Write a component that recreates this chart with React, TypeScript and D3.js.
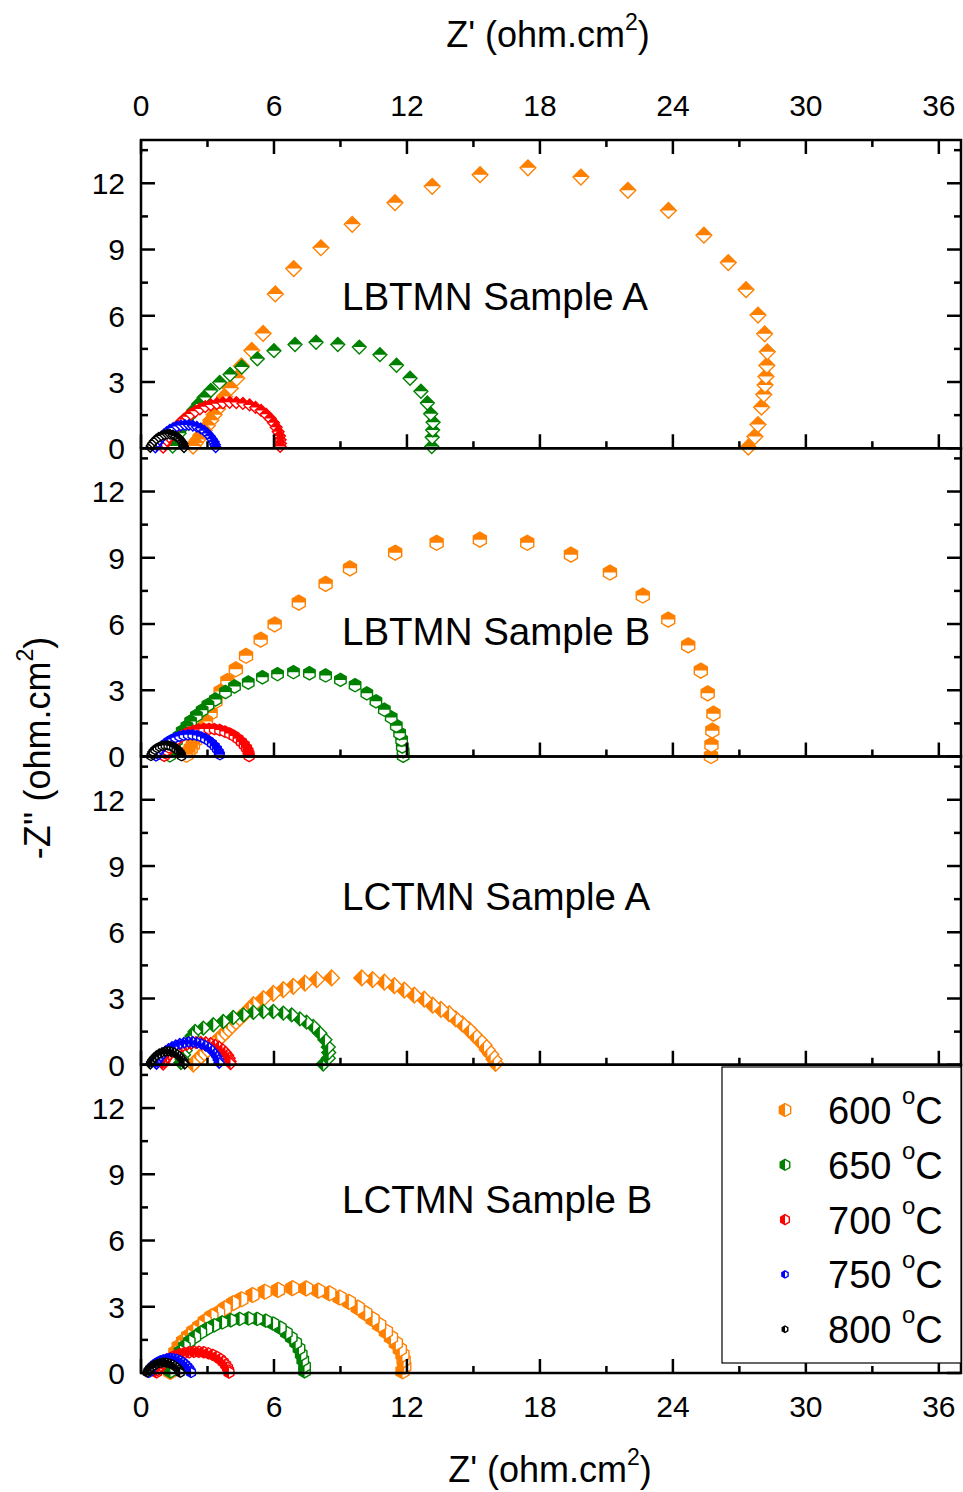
import React from "react";
import * as d3 from "d3";

// ---------- Data (Z', -Z'') ----------
const temperatures = ["600", "650", "700", "750", "800"];
const panelNames = ["LBTMN Sample A", "LBTMN Sample B", "LCTMN Sample A", "LCTMN Sample B"];
const xMajorTicks = [0, 6, 12, 18, 24, 30, 36];
const xMinorTicks = [3, 9, 15, 21, 27, 33];
const yMajorTicks = [0, 3, 6, 9, 12];
const yMinorTicks = [1.5, 4.5, 7.5, 10.5, 13.5];

// Panel 1: LBTMN Sample A
const p1_600 = [[27.4,0.05],[27.7,0.53],[27.84,1.07],[28.0,1.86],[28.1,2.43],[28.16,2.87],[28.2,3.25],[28.24,3.75],[28.26,4.37],[28.14,5.18],[27.84,6.03],[27.3,7.18],[26.5,8.41],[25.4,9.65],[23.8,10.77],[21.97,11.68],[19.85,12.28],[17.46,12.7],[15.3,12.39],[13.14,11.86],[11.46,11.12],[9.53,10.14],[8.12,9.08],[6.89,8.14],[6.06,6.99],[5.51,5.2],[5.0,4.43],[4.53,3.73],[4.32,3.17],[4.03,2.72],[3.77,2.34],[3.6,2.05],[3.45,1.78],[3.3,1.52],[3.15,1.27],[3.0,1.03],[2.85,0.8],[2.7,0.59],[2.57,0.4],[2.45,0.24],[2.35,0.1]];
const p1_650 = [[13.12,0.08],[13.14,0.5],[13.16,0.83],[13.18,1.18],[13.07,1.56],[12.92,2.05],[12.63,2.58],[12.14,3.17],[11.53,3.76],[10.78,4.24],[9.85,4.58],[8.88,4.7],[7.9,4.8],[6.95,4.7],[6.0,4.42],[5.25,4.05],[4.55,3.68],[4.02,3.34],[3.55,2.98],[3.15,2.62],[2.85,2.3],[2.6,2.0],[2.38,1.72],[2.18,1.45],[2.0,1.18],[1.85,0.92],[1.72,0.68],[1.6,0.46],[1.5,0.27],[1.43,0.1]];
const p1_700 = [[1.0,0.05],[1.08,0.2],[1.17,0.36],[1.27,0.52],[1.38,0.68],[1.5,0.84],[1.63,1.0],[1.77,1.15],[1.92,1.3],[2.08,1.43],[2.25,1.55],[2.45,1.67],[2.66,1.78],[2.9,1.88],[3.15,1.96],[3.42,2.02],[3.7,2.06],[4.0,2.08],[4.3,2.07],[4.6,2.03],[4.9,1.96],[5.17,1.85],[5.42,1.71],[5.64,1.54],[5.83,1.35],[5.98,1.15],[6.1,0.95],[6.19,0.75],[6.25,0.56],[6.28,0.38],[6.29,0.22],[6.28,0.08]];
const p1_750 = [[0.65,0.03],[0.7,0.15],[0.76,0.27],[0.84,0.39],[0.93,0.51],[1.04,0.63],[1.16,0.74],[1.3,0.84],[1.45,0.92],[1.62,0.99],[1.8,1.03],[1.98,1.05],[2.16,1.05],[2.34,1.02],[2.52,0.97],[2.69,0.89],[2.85,0.79],[2.99,0.67],[3.11,0.54],[3.21,0.41],[3.29,0.28],[3.34,0.16],[3.37,0.05]];
const p1_800 = [[0.42,0.03],[0.46,0.13],[0.52,0.23],[0.6,0.33],[0.69,0.42],[0.8,0.5],[0.92,0.56],[1.05,0.61],[1.18,0.63],[1.31,0.63],[1.44,0.6],[1.56,0.55],[1.67,0.48],[1.76,0.4],[1.84,0.3],[1.9,0.2],[1.93,0.09],[1.94,0.02]];

// Panel 2: LBTMN Sample B
const p2_600 = [[25.72,0.02],[25.74,0.53],[25.78,1.17],[25.83,1.94],[25.57,2.86],[25.26,3.89],[24.69,5.03],[23.79,6.2],[22.64,7.29],[21.16,8.33],[19.4,9.14],[17.43,9.68],[15.29,9.82],[13.34,9.68],[11.47,9.23],[9.43,8.52],[8.33,7.82],[7.12,6.97],[6.03,5.98],[5.4,5.29],[4.74,4.56],[4.28,3.95],[3.9,3.42],[3.59,2.94],[3.36,2.5],[3.14,1.97],[2.93,1.59],[2.72,1.25],[2.57,0.98],[2.45,0.74],[2.34,0.53],[2.24,0.35],[2.14,0.2],[2.05,0.08]];
const p2_650 = [[11.83,0.03],[11.83,0.23],[11.79,0.45],[11.76,0.76],[11.67,1.05],[11.52,1.39],[11.29,1.77],[10.98,2.12],[10.6,2.5],[10.19,2.86],[9.66,3.23],[9.0,3.47],[8.33,3.67],[7.6,3.77],[6.88,3.82],[6.16,3.73],[5.48,3.59],[4.84,3.35],[4.22,3.17],[3.81,2.92],[3.36,2.58],[3.02,2.33],[2.76,2.09],[2.5,1.85],[2.24,1.59],[2.07,1.36],[1.86,1.14],[1.72,0.92],[1.6,0.72],[1.5,0.52],[1.41,0.33],[1.34,0.17],[1.3,0.05]];
const p2_700 = [[1.05,0.03],[1.1,0.15],[1.17,0.28],[1.26,0.41],[1.37,0.54],[1.5,0.67],[1.64,0.79],[1.8,0.9],[1.98,1.0],[2.17,1.09],[2.38,1.16],[2.6,1.21],[2.83,1.24],[3.07,1.25],[3.31,1.24],[3.55,1.2],[3.78,1.13],[4.0,1.04],[4.2,0.93],[4.38,0.8],[4.53,0.66],[4.66,0.52],[4.76,0.38],[4.83,0.24],[4.87,0.11],[4.88,0.02]];
const p2_750 = [[0.68,0.03],[0.73,0.14],[0.8,0.25],[0.88,0.36],[0.98,0.47],[1.1,0.58],[1.23,0.68],[1.38,0.77],[1.55,0.85],[1.73,0.91],[1.92,0.96],[2.12,0.98],[2.32,0.98],[2.52,0.95],[2.71,0.89],[2.89,0.81],[3.06,0.71],[3.2,0.59],[3.33,0.46],[3.43,0.33],[3.51,0.2],[3.56,0.08]];
const p2_800 = [[0.45,0.02],[0.49,0.12],[0.55,0.21],[0.63,0.3],[0.73,0.38],[0.84,0.44],[0.96,0.48],[1.09,0.5],[1.22,0.5],[1.35,0.47],[1.47,0.42],[1.58,0.35],[1.68,0.27],[1.76,0.17],[1.81,0.08],[1.83,0.01]];

// Panel 3: LCTMN Sample A
const p3_600 = [[16.0,0.06],[15.93,0.24],[15.78,0.47],[15.63,0.67],[15.48,0.89],[15.25,1.13],[15.03,1.35],[14.8,1.59],[14.5,1.85],[14.2,2.08],[13.9,2.31],[13.53,2.51],[13.16,2.7],[12.78,2.97],[12.33,3.15],[11.88,3.38],[11.43,3.58],[10.98,3.74],[10.45,3.86],[9.96,3.93],[8.6,3.93],[7.93,3.85],[7.4,3.7],[6.87,3.55],[6.42,3.4],[5.97,3.23],[5.52,3.0],[5.07,2.72],[4.87,2.5],[4.67,2.3],[4.47,2.12],[4.28,1.94],[4.1,1.76],[3.93,1.58],[3.76,1.41],[3.6,1.25],[3.44,1.1],[3.28,0.95],[3.13,0.8],[2.97,0.64],[2.81,0.48],[2.65,0.33],[2.5,0.18],[2.36,0.03]];
const p3_650 = [[8.22,0.03],[8.45,0.3],[8.47,0.55],[8.45,0.8],[8.3,1.13],[8.07,1.43],[7.77,1.74],[7.47,1.93],[7.17,2.08],[6.8,2.26],[6.42,2.34],[5.97,2.41],[5.52,2.41],[5.07,2.37],[4.62,2.26],[4.16,2.14],[3.71,1.96],[3.26,1.81],[2.81,1.66],[2.44,1.51],[2.3,1.3],[2.2,1.08],[2.1,0.86],[2.0,0.65],[1.92,0.45],[1.85,0.26],[1.8,0.1]];
const p3_700 = [[1.0,0.03],[1.04,0.14],[1.1,0.25],[1.18,0.36],[1.28,0.47],[1.4,0.58],[1.54,0.68],[1.7,0.77],[1.88,0.85],[2.07,0.92],[2.27,0.97],[2.48,1.0],[2.7,1.01],[2.92,1.0],[3.14,0.96],[3.34,0.89],[3.52,0.8],[3.68,0.69],[3.81,0.56],[3.91,0.43],[3.98,0.29],[4.02,0.16],[4.04,0.05]];
const p3_750 = [[0.7,0.03],[0.74,0.15],[0.8,0.27],[0.88,0.39],[0.98,0.5],[1.1,0.61],[1.24,0.71],[1.4,0.8],[1.57,0.88],[1.75,0.95],[1.94,1.0],[2.14,1.03],[2.34,1.03],[2.54,1.0],[2.73,0.94],[2.91,0.86],[3.07,0.76],[3.21,0.64],[3.33,0.5],[3.42,0.36],[3.49,0.22],[3.53,0.08]];
const p3_800 = [[0.42,0.02],[0.46,0.13],[0.52,0.23],[0.6,0.33],[0.7,0.42],[0.82,0.5],[0.95,0.56],[1.09,0.6],[1.23,0.61],[1.37,0.59],[1.5,0.55],[1.62,0.48],[1.73,0.4],[1.82,0.3],[1.9,0.2],[1.95,0.1],[1.97,0.02]];

// Panel 4: LCTMN Sample B
const p4_600 = [[11.8,0.08],[11.88,0.3],[11.85,0.58],[11.8,0.83],[11.68,1.08],[11.5,1.35],[11.28,1.61],[11.05,1.88],[10.75,2.18],[10.45,2.44],[10.12,2.71],[9.78,2.96],[9.38,3.22],[8.96,3.42],[8.5,3.61],[8.0,3.73],[7.45,3.83],[6.83,3.84],[6.18,3.76],[5.58,3.68],[5.03,3.53],[4.53,3.34],[4.15,3.16],[3.78,2.93],[3.48,2.71],[3.18,2.56],[2.88,2.34],[2.63,2.1],[2.36,1.88],[2.13,1.66],[1.9,1.43],[1.7,1.19],[1.55,0.93],[1.45,0.66],[1.38,0.41],[1.34,0.2],[1.32,0.05]];
const p4_650 = [[7.38,0.08],[7.38,0.31],[7.3,0.59],[7.23,0.85],[7.13,1.11],[6.98,1.37],[6.78,1.6],[6.56,1.82],[6.29,2.05],[5.96,2.24],[5.63,2.37],[5.24,2.45],[4.85,2.47],[4.45,2.45],[4.05,2.39],[3.66,2.29],[3.3,2.16],[2.98,2.0],[2.7,1.83],[2.43,1.63],[2.18,1.43],[1.96,1.2],[1.76,0.97],[1.6,0.73],[1.47,0.5],[1.38,0.27],[1.33,0.08]];
const p4_700 = [[0.7,0.03],[0.74,0.13],[0.8,0.23],[0.88,0.33],[0.98,0.43],[1.1,0.53],[1.24,0.62],[1.4,0.71],[1.57,0.78],[1.76,0.85],[1.96,0.9],[2.17,0.94],[2.39,0.96],[2.61,0.96],[2.83,0.94],[3.04,0.89],[3.24,0.82],[3.42,0.73],[3.58,0.62],[3.71,0.5],[3.82,0.37],[3.9,0.24],[3.95,0.11],[3.97,0.02]];
const p4_750 = [[0.35,0.02],[0.39,0.12],[0.45,0.22],[0.53,0.31],[0.63,0.4],[0.74,0.48],[0.87,0.55],[1.01,0.6],[1.16,0.64],[1.31,0.66],[1.46,0.65],[1.61,0.62],[1.75,0.56],[1.88,0.48],[1.99,0.39],[2.09,0.29],[2.17,0.19],[2.23,0.09],[2.26,0.02]];
const p4_800 = [[0.28,0.02],[0.32,0.11],[0.39,0.2],[0.48,0.28],[0.59,0.35],[0.71,0.41],[0.85,0.45],[0.99,0.47],[1.13,0.47],[1.27,0.44],[1.4,0.39],[1.52,0.32],[1.62,0.24],[1.7,0.15],[1.75,0.07],[1.77,0.01]];

const panelData = [
  [p1_600, p1_650, p1_700, p1_750, p1_800],
  [p2_600, p2_650, p2_700, p2_750, p2_800],
  [p3_600, p3_650, p3_700, p3_750, p3_800],
  [p4_600, p4_650, p4_700, p4_750, p4_800],
];

// ---------- Styles / layout ----------
const COLORS = ["#FF8000", "#008000", "#FF0000", "#0000FF", "#000000"];
const SIZES = [7.5, 6.6, 5.6, 5, 4.5];
const LEGEND_SIZES = [6.5, 5.5, 5, 3.6, 3.2];
const PANEL_MARKERS = [
  { shape: "diamond", half: "top" },
  { shape: "hex", half: "top" },
  { shape: "diamond", half: "left" },
  { shape: "hex", half: "left" },
];
const LABEL_BASELINES = [310, 645, 910, 1213];

const W = 963, H = 1492;
const LEFT = 141, RIGHT = 961, TOP = 140, BOTTOM = 1373;
const PH = (BOTTOM - TOP) / 4;
const FONT = "'Liberation Sans', Arial, Helvetica, sans-serif";
const MAJ = 14, MIN = 7, LW = 2.5;

function shapePaths(shape: string, half: string, r: number) {
  const line = d3.line();
  if (shape === "diamond") {
    const rr = r * 1.05;
    const full: [number, number][] = [[0, -rr], [rr, 0], [0, rr], [-rr, 0]];
    const h: [number, number][] = half === "top"
      ? [[-rr, 0], [0, -rr], [rr, 0]]
      : [[0, -rr], [-rr, 0], [0, rr]];
    return { full: line(full) + "Z", half: line(h) + "Z" };
  }
  const w = r * Math.cos(Math.PI / 6);
  const full: [number, number][] = [[0, -r], [w, -r / 2], [w, r / 2], [0, r], [-w, r / 2], [-w, -r / 2]];
  const h: [number, number][] = half === "top"
    ? [[-w, 0], [-w, -r / 2], [0, -r], [w, -r / 2], [w, 0]]
    : [[0, -r], [-w, -r / 2], [-w, r / 2], [0, r]];
  return { full: line(full) + "Z", half: line(h) + "Z" };
}

function Marker({ x, y, color, shape, half, r }: any) {
  const p = shapePaths(shape, half, r);
  return (
    <g transform={`translate(${x},${y})`}>
      <path d={p.full} fill="#fff" />
      <path d={p.half} fill={color} />
      <path d={p.full} fill="none" stroke={color} strokeWidth={1.4} />
    </g>
  );
}

function Panel({ index }: { index: number }) {
  const top = TOP + index * PH;
  const bottom = top + PH;
  const x = d3.scaleLinear().domain([0, 37]).range([LEFT, RIGHT]);
  const y = d3.scaleLinear().domain([0, 13.96]).range([bottom, top]);
  const mk = PANEL_MARKERS[index];
  return (
    <g>
      {panelData[index].map((series, si) => (
        <g key={si}>
          {series.map((d, i) => (
            <Marker key={i} x={x(d[0])} y={y(d[1])} color={COLORS[si]} shape={mk.shape} half={mk.half} r={SIZES[si]} />
          ))}
        </g>
      ))}
      <rect x={LEFT} y={top} width={RIGHT - LEFT} height={PH} fill="none" stroke="#000" strokeWidth={LW} />
      {xMajorTicks.map((t) => (
        <line key={"bM" + t} x1={x(t)} x2={x(t)} y1={bottom} y2={bottom - MAJ} stroke="#000" strokeWidth={LW} />
      ))}
      {xMinorTicks.map((t) => (
        <line key={"bm" + t} x1={x(t)} x2={x(t)} y1={bottom} y2={bottom - MIN} stroke="#000" strokeWidth={LW} />
      ))}
      {yMajorTicks.map((t) => (
        <g key={"yM" + t}>
          <line x1={LEFT} x2={LEFT + MAJ} y1={y(t)} y2={y(t)} stroke="#000" strokeWidth={LW} />
          <line x1={RIGHT} x2={RIGHT - MAJ} y1={y(t)} y2={y(t)} stroke="#000" strokeWidth={LW} />
          <text x={LEFT - 16} y={y(t)} dy="0.36em" textAnchor="end" fontSize={30} fontFamily={FONT}>{t}</text>
        </g>
      ))}
      {yMinorTicks.map((t) => (
        <g key={"ym" + t}>
          <line x1={LEFT} x2={LEFT + MIN} y1={y(t)} y2={y(t)} stroke="#000" strokeWidth={LW} />
          <line x1={RIGHT} x2={RIGHT - MIN} y1={y(t)} y2={y(t)} stroke="#000" strokeWidth={LW} />
        </g>
      ))}
      <text x={342} y={LABEL_BASELINES[index]} fontSize={38.5} fontFamily={FONT}>{panelNames[index]}</text>
    </g>
  );
}

function Legend() {
  const x0 = 722, y0 = 1067, w = 239, h = 296;
  return (
    <g>
      <rect x={x0} y={y0} width={w} height={h} fill="#fff" stroke="#000" strokeWidth={1.2} />
      {temperatures.map((t, i) => {
        const cy = 1110 + i * 54.8;
        return (
          <g key={t}>
            <Marker x={785} y={cy} color={COLORS[i]} shape="hex" half="left" r={LEGEND_SIZES[i]} />
            <text x={828} y={cy + 14} fontSize={38} fontFamily={FONT}>
              {t}{" "}
              <tspan fontSize={24} dy={-20}>o</tspan>
              <tspan dy={20}>C</tspan>
            </text>
          </g>
        );
      })}
    </g>
  );
}

function AxisTitle({ x, y, transform, label }: any) {
  return (
    <text x={x} y={y} transform={transform} textAnchor="middle" fontSize={36} fontFamily={FONT}>
      {label} (ohm.cm<tspan fontSize={23} dy={-17}>2</tspan><tspan dy={17}>)</tspan>
    </text>
  );
}

export default function App() {
  const x = d3.scaleLinear().domain([0, 37]).range([LEFT, RIGHT]);
  return (
    <div style={{ position: "absolute", left: 0, top: 0 }}>
      <svg width={W} height={H} viewBox={`0 0 ${W} ${H}`} style={{ display: "block", background: "#fff" }}>
        <rect width={W} height={H} fill="#fff" />
        {[0, 1, 2, 3].map((i) => <Panel key={i} index={i} />)}
        {xMajorTicks.map((t) => (
          <g key={"tM" + t}>
            <line x1={x(t)} x2={x(t)} y1={TOP} y2={TOP + MAJ} stroke="#000" strokeWidth={LW} />
            <text x={x(t)} y={116} textAnchor="middle" fontSize={30} fontFamily={FONT}>{t}</text>
            <text x={x(t)} y={1417} textAnchor="middle" fontSize={30} fontFamily={FONT}>{t}</text>
          </g>
        ))}
        {xMinorTicks.map((t) => (
          <line key={"tm" + t} x1={x(t)} x2={x(t)} y1={TOP} y2={TOP + MIN} stroke="#000" strokeWidth={LW} />
        ))}
        <Legend />
        <AxisTitle x={548} y={47} label="Z'" />
        <AxisTitle x={550} y={1482} label="Z'" />
        <AxisTitle transform="translate(50,748) rotate(-90)" x={0} y={0} label="-Z''" />
      </svg>
    </div>
  );
}
